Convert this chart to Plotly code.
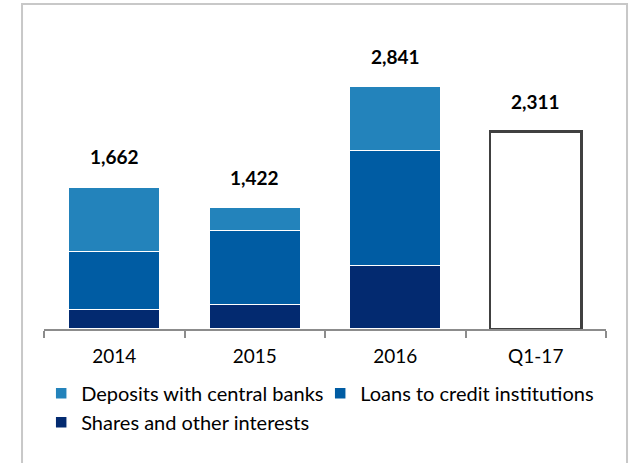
import plotly.graph_objects as go

categories = ["2014", "2015", "2016", "Q1-17"]
shares = [230, 289, 741, None]
loans = [674, 866, 1345, None]
deposits = [758, 267, 755, None]
q1_total = [None, None, None, 2311]
totals = [1662, 1422, 2841, 2311]
total_labels = ["1,662", "1,422", "2,841", "2,311"]

FONT = "Lato"
SEP = dict(color="white", width=1.5)

fig = go.Figure()
fig.add_trace(go.Bar(x=categories, y=shares, name="Shares and other interests",
                     marker=dict(color="#032a70", line=SEP), legendrank=3))
fig.add_trace(go.Bar(x=categories, y=loans, name="Loans to credit institutions",
                     marker=dict(color="#005ca3", line=SEP), legendrank=2))
fig.add_trace(go.Bar(x=categories, y=deposits, name="Deposits with central banks",
                     marker=dict(color="#2383bb", line=SEP), legendrank=1))
fig.add_trace(go.Bar(x=categories, y=q1_total, showlegend=False,
                     marker=dict(color="white", line=dict(color="#404040", width=2.5))))

# total labels above each column (category index positions)
for i, (tot, lab) in enumerate(zip(totals, total_labels)):
    fig.add_annotation(x=i, y=tot, text=f"<b>{lab}</b>", showarrow=False,
                       yshift=30, font=dict(family=FONT, size=19, color="black"))

# outer frame around the chart
fig.add_shape(type="rect", xref="paper", yref="paper",
              x0=-0.0391, x1=1.0374, y0=-0.456, y1=1.0518,
              line=dict(color="#c8c8c8", width=2), layer="below")

fig.update_layout(
    width=629, height=463,
    margin=dict(l=44, r=23, t=20, b=134),
    barmode="stack", bargap=0.35,
    plot_bgcolor="white", paper_bgcolor="white",
    font=dict(family=FONT, size=20, color="black"),
    xaxis=dict(type="category", range=[-0.5, 3.5], showline=True,
               linecolor="#8c8c8c", linewidth=1.5,
               ticks="outside", tickson="boundaries", ticklen=7,
               tickcolor="#8c8c8c", tickwidth=1.5, showgrid=False,
               tickfont=dict(size=19), ticklabelstandoff=9),
    yaxis=dict(range=[0, 3615], visible=False, showgrid=False),
    legend=dict(orientation="h", x=-0.005, xanchor="left", y=-0.145, yanchor="top",
                font=dict(size=20), itemclick=False, entrywidth=234,
                traceorder="normal", tracegroupgap=0),
)

fig.write_html("out.html")
